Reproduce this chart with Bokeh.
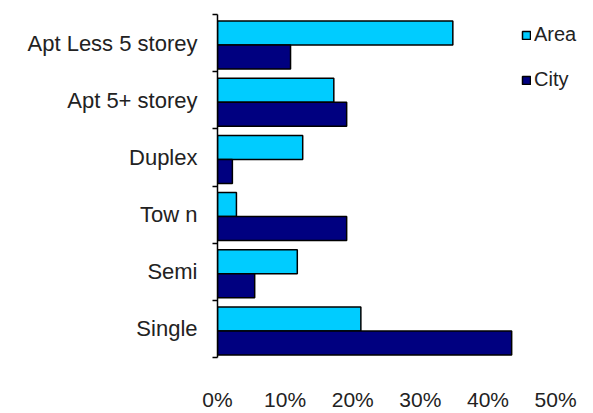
from bokeh.plotting import figure
from bokeh.models import Range1d, FixedTicker, NumeralTickFormatter, Legend, LegendItem
from bokeh.embed import file_html
from bokeh.resources import INLINE

categories = ["Single", "Semi", "Tow n", "Duplex", "Apt 5+ storey", "Apt Less 5 storey"]
area = [0.212, 0.118, 0.028, 0.126, 0.172, 0.348]
city = [0.435, 0.055, 0.191, 0.022, 0.191, 0.108]
x_ticks = [0.0, 0.1, 0.2, 0.3, 0.4, 0.5]

AREA_COLOR = "#00CCFF"
CITY_COLOR = "#000080"

n = len(categories)
centers = [i + 0.5 for i in range(n)]
bar_h = 0.42
shift = -0.035

p = figure(width=593, height=413, output_backend="svg", toolbar_location=None,
           x_range=Range1d(0, 0.556), y_range=Range1d(0, n),
           min_border_left=217, min_border_right=0, min_border_top=14, min_border_bottom=43)
p.outline_line_color = None
p.xgrid.grid_line_color = None
p.ygrid.grid_line_color = None
p.background_fill_color = "white"

ra = p.hbar(y=[c + bar_h / 2 + shift for c in centers], right=area, left=0, height=bar_h,
            fill_color=AREA_COLOR, line_color="black", line_width=1.5)
rc = p.hbar(y=[c - bar_h / 2 + shift for c in centers], right=city, left=0, height=bar_h,
            fill_color=CITY_COLOR, line_color="black", line_width=1.5)

# y axis
p.yaxis.ticker = FixedTicker(ticks=centers, minor_ticks=list(range(n + 1)))
p.yaxis.major_label_overrides = {c: lab for c, lab in zip(centers, categories)}
p.yaxis.major_tick_out = 0
p.yaxis.major_tick_in = 0
p.yaxis.minor_tick_out = 5
p.yaxis.minor_tick_in = 0
p.yaxis.minor_tick_line_color = "black"
p.yaxis.minor_tick_line_width = 1.5
p.yaxis.axis_line_color = "black"
p.yaxis.axis_line_width = 1.5
p.yaxis.major_label_standoff = 15
p.yaxis.major_label_text_font = "Liberation Sans"
p.yaxis.major_label_text_font_size = "22px"
p.yaxis.major_label_text_color = "#222222"

# x axis
p.xaxis.ticker = FixedTicker(ticks=x_ticks)
p.xaxis.formatter = NumeralTickFormatter(format="0%")
p.xaxis.axis_line_color = None
p.xaxis.major_tick_line_color = None
p.xaxis.minor_tick_line_color = None
p.xaxis.major_label_standoff = 24
p.xaxis.major_label_text_font = "Liberation Sans"
p.xaxis.major_label_text_font_size = "21px"
p.xaxis.major_label_text_color = "#222222"

legend = Legend(items=[LegendItem(label="Area", renderers=[ra]),
                       LegendItem(label="City", renderers=[rc])],
                location=(304, 266))
legend.border_line_color = None
legend.background_fill_alpha = 0
legend.glyph_width = 10
legend.glyph_height = 10
legend.spacing = 22
legend.label_standoff = 3
legend.label_text_font = "Liberation Sans"
legend.label_text_font_size = "20px"
legend.label_text_color = "#222222"
legend.padding = 0
legend.margin = 0
p.add_layout(legend)

open("out.html", "w").write(file_html(p, INLINE))
